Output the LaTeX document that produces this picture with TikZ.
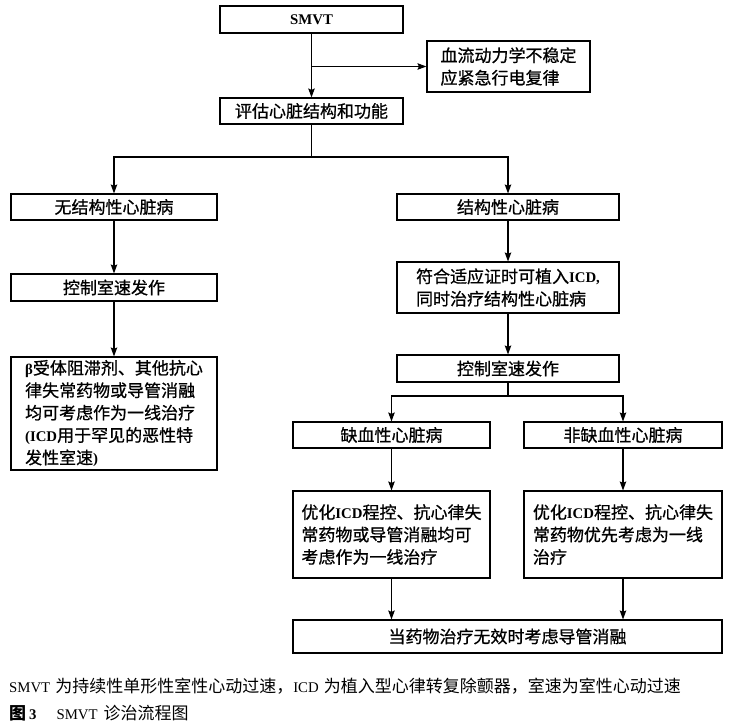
\documentclass[tikz,border=0pt]{standalone}
\usepackage{fontspec}
\setmainfont{Liberation Serif}
\newfontfamily\cjk{Noto Sans CJK SC}
\newfontfamily\cjkbox{Noto Sans CJK SC}[FakeBold=0.8]
\newfontfamily\tnr{Liberation Serif}[Scale=0.87]
\newcommand\en[1]{{\tnr\bfseries #1}}
\newcommand\enr[1]{{\tnr #1}}
\usetikzlibrary{positioning, arrows.meta, calc}
\tikzset{
    % Box styles
    box/.style={rectangle, draw, line width=1.1pt, inner sep=0pt, align=left,
                font=\cjkbox\fontsize{17}{22.4}\selectfont},
    % Arrow styles
    arrow/.style={-{Stealth[length=9pt, width=6.5pt, inset=1.5pt]}, line width=1.1pt},
    line/.style={line width=1.1pt},
    % Caption
    note/.style={inner sep=0pt, font=\cjk\fontsize{17}{20}\selectfont},
}

\begin{document}
\begin{tikzpicture}[x=1pt, y=-1pt]
    \useasboundingbox (0, 0) rectangle (732, 728);

    % Top
    \node[box, minimum width=183pt, minimum height=27pt] (smvt) at (311.5, 19.5) {\en{SMVT}};
    \node[box, minimum width=163pt, minimum height=51pt] (unstable) at (508.5, 66.5)
        {血流动力学不稳定\\应紧急行电复律};
    \node[box, minimum width=183pt, minimum height=26pt] (eval) at (311.5, 111) {评估心脏结构和功能};

    % Left branch
    \node[box, minimum width=206pt, minimum height=26pt] (nostruct) at (114, 207) {无结构性心脏病};
    \node[box, minimum width=206pt, minimum height=27pt] (ctrlL) at (114, 287.5) {控制室速发作};
    \node[box, minimum width=206pt, minimum height=113pt] (beta) at (114, 413.5)
        {\en{β}受体阻滞剂、其他抗心\\律失常药物或导管消融\\均可考虑作为一线治疗\\\en{(ICD}用于罕见的恶性特\\发性室速\en{)}};

    % Right branch
    \node[box, minimum width=222pt, minimum height=26pt] (struct) at (508, 207) {结构性心脏病};
    \node[box, minimum width=222pt, minimum height=51pt] (icd) at (508, 287.5)
        {符合适应证时可植入\en{ICD,}\\同时治疗结构性心脏病};
    \node[box, minimum width=222pt, minimum height=27pt] (ctrlR) at (508, 368.5) {控制室速发作};
    \node[box, minimum width=197pt, minimum height=26pt] (isch) at (391.5, 435) {缺血性心脏病};
    \node[box, minimum width=198pt, minimum height=26pt] (nonisch) at (623, 435) {非缺血性心脏病};
    \node[box, minimum width=197pt, minimum height=87pt] (optL) at (391.5, 534.5)
        {优化\en{ICD}程控、抗心律失\\常药物或导管消融均可\\考虑作为一线治疗};
    \node[box, minimum width=198pt, minimum height=87pt] (optR) at (623, 534.5)
        {优化\en{ICD}程控、抗心律失\\常药物优先考虑为一线\\治疗};
    \node[box, minimum width=429pt, minimum height=33pt] (final) at (507.5, 636.5)
        {当药物治疗无效时考虑导管消融};

    % Connectors
    \coordinate (split) at (smvt.south |- unstable.west);
    \coordinate (fork1) at (311.5, 157);
    \coordinate (fork2) at (508, 396);

    \draw[arrow] (smvt) -- (eval);
    \draw[arrow] (split) -- (unstable);
    \draw[line] (eval) -- (fork1);
    \draw[arrow] (fork1) -| (nostruct);
    \draw[arrow] (fork1) -| (struct);
    \draw[arrow] (nostruct) -- (ctrlL);
    \draw[arrow] (ctrlL) -- (beta);
    \draw[arrow] (struct) -- (icd);
    \draw[arrow] (icd) -- (ctrlR);
    \draw[line] (ctrlR) -- (fork2);
    \draw[arrow] (fork2) -| (isch);
    \draw[arrow] (fork2) -| (nonisch);
    \draw[arrow] (isch) -- (optL);
    \draw[arrow] (nonisch) -- (optR);
    \draw[arrow] (optL) -- (optL |- final.north);
    \draw[arrow] (optR) -- (optR |- final.north);

    % Caption
    \node[note, anchor=base west] (legend) at (9, 692)
        {\enr{SMVT}\hspace{5pt}为持续性单形性室性心动过速，\enr{ICD}\hspace{5pt}为植入型心律转复除颤器，室速为室性心动过速};
    \node[note, anchor=base west] (title) at (9, 719)
        {{\bfseries 图}\hspace{3pt}\en{3}\hspace{20pt}\enr{SMVT}\hspace{6pt}诊治流程图};
\end{tikzpicture}
\end{document}
